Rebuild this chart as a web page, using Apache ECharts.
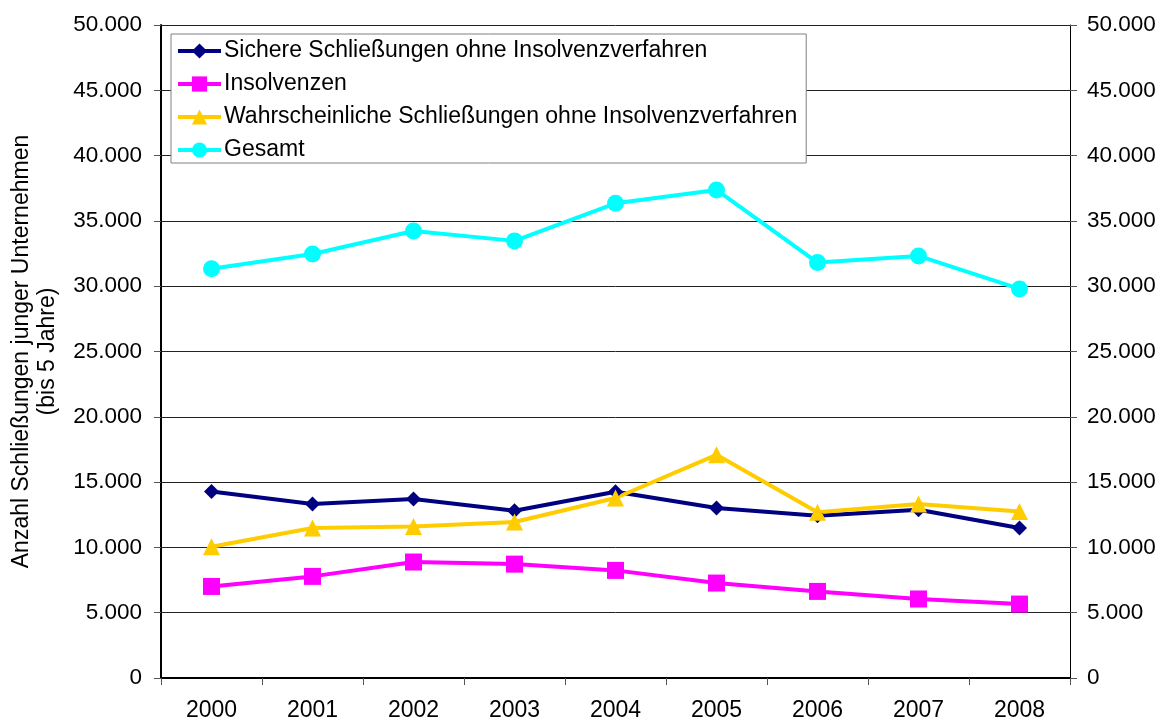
<!DOCTYPE html>
<html>
<head>
<meta charset="utf-8">
<script src="https://cdn.jsdelivr.net/npm/echarts@6/dist/echarts.min.js"></script>
<style>
html,body{margin:0;padding:0;background:#fff;}
#chart{width:1161px;height:722px;}
</style>
</head>
<body>
<div id="chart"></div>
<script>
const years = ['2000','2001','2002','2003','2004','2005','2006','2007','2008'];
const sichere = [14280, 13320, 13700, 12800, 14260, 13010, 12420, 12880, 11480];
const insolvenzen = [7010, 7780, 8880, 8720, 8240, 7270, 6630, 6050, 5660];
const wahrscheinliche = [10050, 11480, 11600, 11940, 13780, 17090, 12700, 13320, 12750];
const gesamt = [31330, 32470, 34230, 33470, 36350, 37370, 31810, 32320, 29790];
const seriesNames = ['Sichere Schließungen ohne Insolvenzverfahren','Insolvenzen','Wahrscheinliche Schließungen ohne Insolvenzverfahren','Gesamt'];
const yAxisTitle = 'Anzahl Schließungen junger Unternehmen\n(bis 5 Jahre)';

const FONT = '"Liberation Sans", Arial, sans-serif';
const fmt = v => v === 0 ? '0' : String(v).replace(/\B(?=(\d{3})+(?!\d))/g, '.');

const chart = echarts.init(document.getElementById('chart'), null, {renderer:'canvas'});
const yCommon = {
  type:'value', min:0, max:50000, interval:5000,
  axisTick:{show:true, length:7, lineStyle:{color:'#555', width:1}},
  axisLabel:{color:'#000', fontSize:22.5, fontFamily:FONT, formatter:fmt}
};
const mk = (name, data, color, symbol, size) => ({
  name, type:'line', data, yAxisIndex:0,
  symbol, symbolSize:size,
  lineStyle:{color, width:4},
  itemStyle:{color},
  emphasis:{disabled:true},
  animation:false
});
chart.setOption({
  animation:false,
  backgroundColor:'#fff',
  grid:{left:161, right:91, top:25, bottom:44, containLabel:false, outerBoundsMode:'none'},
  legend:{
    orient:'vertical', left:171, top:34,
    data:seriesNames,
    backgroundColor:'#fff', borderColor:'#808080', borderWidth:1,
    padding:[4,9,0,5], itemGap:7, itemWidth:43, itemHeight:19,
    lineStyle:{width:4},
    textStyle:{color:'#000', fontSize:23, lineHeight:26, fontFamily:FONT, padding:[0,0,0,-2]},
    selectedMode:false
  },
  xAxis:{
    type:'category', data:years, boundaryGap:true,
    axisLine:{lineStyle:{color:'#000', width:2}},
    axisTick:{show:true, length:7, interval:0, lineStyle:{color:'#555', width:1}},
    axisLabel:{color:'#000', fontSize:23, fontFamily:FONT, margin:21, interval:0},
    splitLine:{show:false}
  },
  yAxis:[
    Object.assign({}, yCommon, {
      position:'left',
      axisLine:{show:true, lineStyle:{color:'#000', width:2}},
      axisLabel:Object.assign({}, yCommon.axisLabel, {margin:19}),
      name:yAxisTitle, nameLocation:'middle', nameRotate:90, nameGap:100,
      nameTextStyle:{color:'#000', fontSize:23, fontFamily:FONT, lineHeight:26, align:'center'},
      splitLine:{show:true, lineStyle:{color:'#222', width:1}}
    }),
    Object.assign({}, yCommon, {
      position:'right',
      axisLine:{show:true, lineStyle:{color:'#000', width:1}},
      axisLabel:Object.assign({}, yCommon.axisLabel, {margin:17}),
      splitLine:{show:false}
    })
  ],
  series:[
    mk(seriesNames[0], sichere, '#000080', 'diamond', 15),
    mk(seriesNames[1], insolvenzen, '#FF00FF', 'rect', 17),
    mk(seriesNames[2], wahrscheinliche, '#FFCC00', 'triangle', 17),
    mk(seriesNames[3], gesamt, '#00FFFF', 'circle', 17)
  ]
});
</script>
</body>
</html>
